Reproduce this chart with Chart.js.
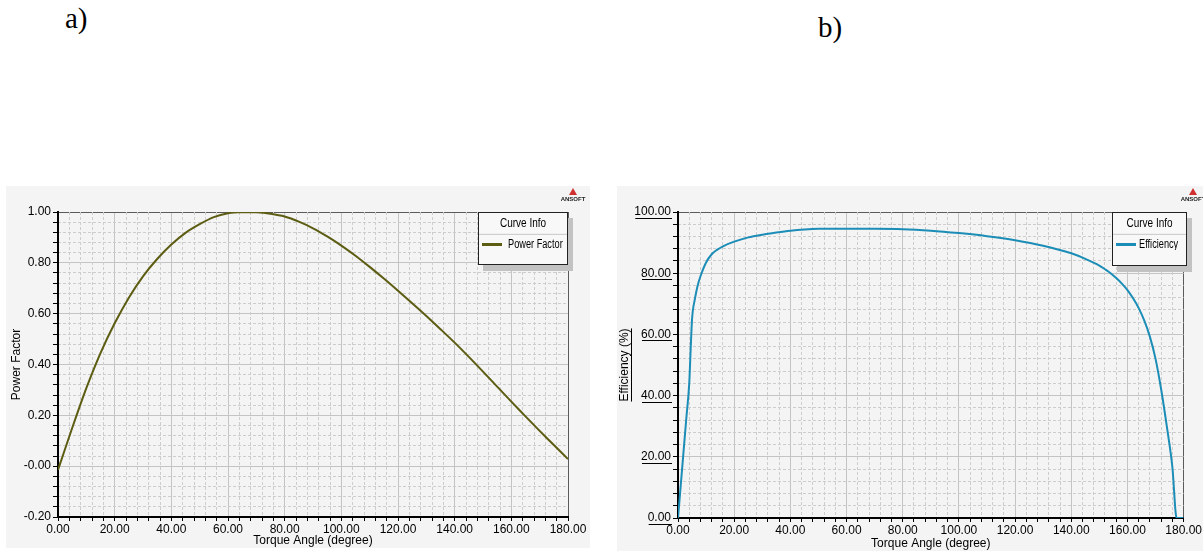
<!DOCTYPE html>
<html>
<head>
<meta charset="utf-8">
<script src="https://cdn.jsdelivr.net/npm/chart.js"></script>
<style>
  body { margin:0; width:1203px; height:551px; background:#fff; position:relative; overflow:hidden; }
  .lbl { position:absolute; font-family:'Liberation Serif','Times New Roman',serif; font-size:29px; color:#000; }
  .panel { position:absolute; background:#f4f4f4; }
  .panel canvas { position:absolute; left:0; top:0; }
  .legend { position:absolute; background:#f8f8f8; border:1px solid #222; font-family:'Liberation Sans',Arial,sans-serif; font-size:10px; color:#000;
            box-shadow:5px 6px 0 #c2c2c2; white-space:nowrap; }
  .legend .hd { text-align:center; height:19px; line-height:19px; border-bottom:1px solid #cfcfcf; transform:scaleY(1.2); }
  .legend .it { position:relative; height:22px; line-height:22px; }
  .legend .sw { position:absolute; left:3px; top:10px; width:20px; height:3px; }
  .legend .tx { position:absolute; left:29px; top:0; transform:scale(0.92,1.2); transform-origin:left center; }
  .logo { position:absolute; width:26px; text-align:center; font-family:'Liberation Sans',Arial,sans-serif; font-size:6px; font-weight:bold; color:#222; }
  .logo .tri { width:0; height:0; margin:0 auto 1px; border-left:4px solid transparent; border-right:4px solid transparent; border-bottom:7px solid #d03030; }
</style>
</head>
<body>
<div class="lbl" style="left:65px; top:2px;">a)</div>
<div class="lbl" style="left:818px; top:11px;">b)</div>

<div class="panel" style="left:6px; top:186px; width:584px; height:362px;">
  <canvas id="pf" width="584" height="362"></canvas>
  <div class="legend" style="left:472px; top:26px; width:88px; height:51px;">
    <div class="hd">Curve Info</div>
    <div class="it"><div class="sw" style="background:#5c5c12"></div><div class="tx">Power Factor</div></div>
  </div>
  <div class="logo" style="left:554px; top:2px;"><div class="tri"></div>ANSOFT</div>
</div>

<div class="panel" style="left:617px; top:186px; width:586px; height:365px;">
  <canvas id="eff" width="586" height="365"></canvas>
  <div class="legend" style="left:495px; top:26px; width:73px; height:52px;">
    <div class="hd">Curve Info</div>
    <div class="it"><div class="sw" style="background:#1b8db6"></div><div class="tx" style="left:26px">Efficiency</div></div>
  </div>
  <div class="logo" style="left:563px; top:2px;"><div class="tri"></div>ANSOFT</div>
</div>

<script>
// a) power factor vs torque angle
const pfAngles = [0, 5, 10, 15, 20, 25, 30, 35, 40, 45, 50, 55, 60, 65, 70, 75, 80, 85, 90, 95, 100, 105, 110, 115, 120, 125, 130, 135, 140, 145, 150, 155, 160, 165, 170, 175, 180];
const pfValues = [-0.015, 0.15, 0.307, 0.445, 0.562, 0.663, 0.747, 0.815, 0.872, 0.918, 0.952, 0.98, 0.995, 1.0, 0.999, 0.993, 0.982, 0.962, 0.936, 0.904, 0.868, 0.828, 0.784, 0.738, 0.69, 0.641, 0.591, 0.539, 0.486, 0.430, 0.372, 0.313, 0.254, 0.196, 0.139, 0.083, 0.028];

// b) efficiency vs torque angle
const effAngles = [0, 1, 2, 3, 4, 4.5, 5, 6, 7, 8, 10, 12, 14, 16, 20, 25, 30, 35, 40, 45, 50, 60, 70, 80, 90, 100, 110, 120, 130, 140, 145, 150, 152, 154, 156, 158, 160, 162, 164, 166, 168, 170, 172, 174, 176, 177.5, 180];
const effValues = [0, 11, 22, 33, 44, 55, 65, 71.5, 76, 79, 83.5, 86.2, 87.7, 88.8, 90.3, 91.7, 92.6, 93.3, 93.9, 94.3, 94.5, 94.5, 94.5, 94.4, 93.9, 93.1, 92.1, 90.8, 89.0, 86.5, 84.7, 82.5, 81.3, 80.0, 78.4, 76.6, 74.5, 71.8, 68.6, 64.5, 59.2, 52, 42, 30, 16.5, 0, 0];

const tickFont = { family: "'Liberation Sans',Arial,sans-serif", size: 12 };
const titleFont = { family: "'Liberation Sans',Arial,sans-serif", size: 12 };

// major lines solid, frame line at max darker, minor lines hidden here (drawn dashed by the overlay axes)
function majorColor(v, major, max) {
  if (Math.abs(v - max) < 1e-6) return '#5a5a5a';
  return Math.round(v * 1000) % Math.round(major * 1000) === 0 ? '#c4c4c4' : 'rgba(0,0,0,0)';
}
function minorColor(v, major) {
  return Math.round(v * 1000) % Math.round(major * 1000) === 0 ? 'rgba(0,0,0,0)' : '#cdcdcd';
}
function stepTicks(min, max, step) {
  return s => { s.ticks = []; const n = Math.round((max - min) / step); for (let k = 0; k <= n; k++) s.ticks.push({ value: min + k * step }); };
}

function xScale(h) {
  return {
    type: 'linear', min: 0, max: 180,
    afterBuildTicks: stepTicks(0, 180, 4),
    afterFit: s => { s.height = h; },
    ticks: { autoSkip: false, maxRotation: 0, padding: 1, color: '#000', font: tickFont,
      callback: v => (v % 20 === 0 ? v.toFixed(2) : '') },
    grid: { color: c => majorColor(c.tick.value, 20, 180), tickColor: '#000', tickLength: 4, lineWidth: 1 },
    border: { color: '#000', width: 2 },
    title: { display: true, text: 'Torque Angle (degree)', color: '#000', font: titleFont, padding: { top: 0, bottom: 0 } }
  };
}
function minorScale(axis, min, max, step, major) {
  return {
    type: 'linear', axis: axis, position: axis === 'x' ? 'bottom' : 'left', min: min, max: max,
    afterBuildTicks: stepTicks(min, max, step),
    afterFit: s => { if (axis === 'x') s.height = 0; else s.width = 0; },
    ticks: { display: false },
    grid: { color: c => minorColor(c.tick.value, major), drawTicks: false, lineWidth: 1 },
    border: { display: false, dash: [3, 2] }
  };
}

const underline = {
  id: 'underline',
  afterDraw(chart, args, opts) {
    if (!opts.on) return;
    const ctx = chart.ctx, y = chart.scales.y, area = chart.chartArea;
    ctx.save();
    ctx.strokeStyle = '#000'; ctx.lineWidth = 1;
    ctx.font = tickFont.size + 'px ' + tickFont.family;
    y.ticks.forEach(t => {
      if (!t.label) return;
      const w = ctx.measureText(t.label).width;
      const right = area.left - 6;
      const py = Math.round(y.getPixelForValue(t.value) + 6) + 0.5;
      ctx.beginPath(); ctx.moveTo(right - w, py); ctx.lineTo(right, py); ctx.stroke();
    });
    ctx.font = titleFont.size + 'px ' + titleFont.family;
    const tw = ctx.measureText(y.options.title.text).width;
    const cy = (area.top + area.bottom) / 2;
    const tx = opts.titleX + 0.5;
    ctx.beginPath(); ctx.moveTo(tx, cy - tw / 2); ctx.lineTo(tx, cy + tw / 2); ctx.stroke();
    ctx.restore();
  }
};
Chart.register(underline);

new Chart(document.getElementById('pf'), {
  type: 'line',
  data: { datasets: [{ data: pfAngles.map((a, i) => ({ x: a, y: pfValues[i] })), borderColor: '#5c5c12', borderWidth: 2, pointRadius: 0, tension: 0.3, fill: false }] },
  options: {
    responsive: false, animation: false,
    layout: { padding: { left: 0, top: 26, right: 22, bottom: 0 } },
    plugins: { legend: { display: false }, tooltip: { enabled: false }, underline: { on: false } },
    scales: {
      x: xScale(31),
      y: {
        type: 'linear', min: -0.2, max: 1.0,
        afterBuildTicks: stepTicks(-0.2, 1.0, 0.04),
        afterFit: s => { s.width = 52; },
        ticks: { autoSkip: false, padding: 2, color: '#000', font: tickFont,
          callback: v => { const r = Math.round(v * 100); if (r % 20 !== 0) return ''; return r === 0 ? '-0.00' : (r / 100).toFixed(2); } },
        grid: { color: c => majorColor(c.tick.value, 0.2, 1.0), tickColor: '#000', tickLength: 5, lineWidth: 1 },
        border: { color: '#000', width: 2 },
        title: { display: true, text: 'Power Factor', color: '#000', font: titleFont, padding: { top: 3, bottom: 0 } }
      },
      xm: minorScale('x', 0, 180, 4, 20),
      ym: minorScale('y', -0.2, 1.0, 0.04, 0.2)
    }
  }
});

new Chart(document.getElementById('eff'), {
  type: 'line',
  data: { datasets: [{ data: effAngles.map((a, i) => ({ x: a, y: effValues[i] })), borderColor: '#1b8db6', borderWidth: 2, pointRadius: 0, cubicInterpolationMode: 'monotone', fill: false }] },
  options: {
    responsive: false, animation: false,
    layout: { padding: { left: 0, top: 26, right: 16, bottom: 0 } },
    plugins: { legend: { display: false }, tooltip: { enabled: false }, underline: { on: true, titleX: 14 } },
    scales: {
      x: xScale(33),
      y: {
        type: 'linear', min: 0, max: 100,
        afterBuildTicks: stepTicks(0, 100, 4),
        afterFit: s => { s.width = 61; },
        ticks: { autoSkip: false, padding: 2, color: '#000', font: tickFont,
          callback: v => (Math.round(v) % 20 === 0 ? v.toFixed(2) : '') },
        grid: { color: c => majorColor(c.tick.value, 20, 100), tickColor: '#000', tickLength: 5, lineWidth: 1 },
        border: { color: '#000', width: 2 },
        title: { display: true, text: 'Efficiency (%)', color: '#000', font: titleFont, padding: { top: 0, bottom: 0 } }
      },
      xm: minorScale('x', 0, 180, 4, 20),
      ym: minorScale('y', 0, 100, 4, 20)
    }
  }
});
</script>
</body>
</html>
